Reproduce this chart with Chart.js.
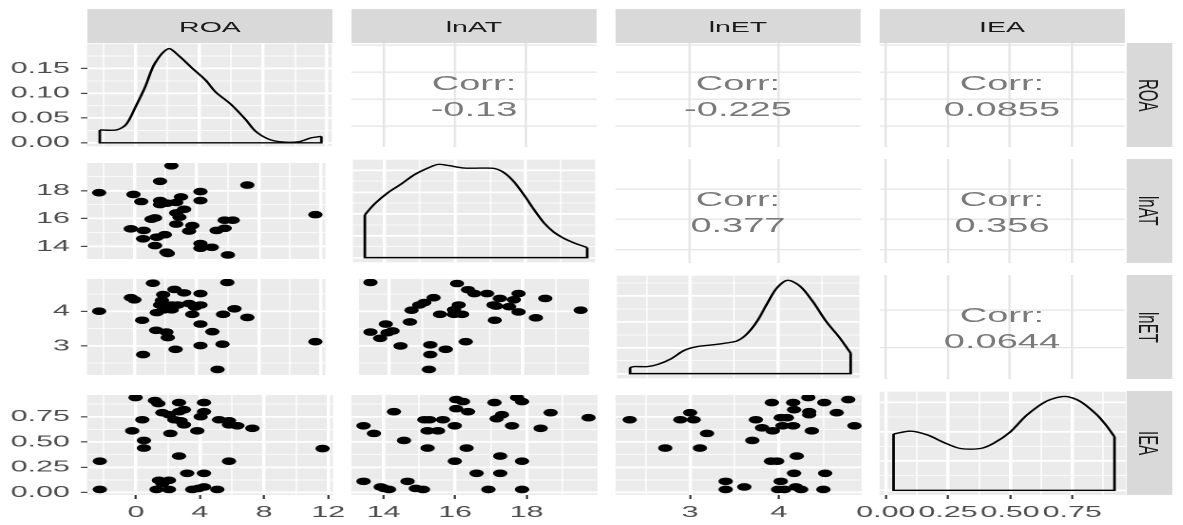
<!DOCTYPE html>
<html>
<head>
<meta charset="utf-8">
<script src="https://cdn.jsdelivr.net/npm/chart.js@4.4.1/dist/chart.umd.min.js"></script>
<style>
	html, body { margin: 0; padding: 0; background: #ffffff; overflow: hidden; }
	/* the reference is stretched sideways, so the whole matrix is drawn narrow and scaled */
	#stage {
		position: absolute; left: 0; top: 0; width: 623px; height: 525px;
		transform: scaleX( 1.9 ); transform-origin: 0 0;
		font-family: 'Liberation Sans', Arial, sans-serif;
	}
	.cell { position: absolute; }
	.strip {
		position: absolute; background: #d9d9d9; color: #1a1a1a; font-size: 15px;
		display: flex; align-items: center; justify-content: center;
	}
	.strip.right { writing-mode: vertical-rl; }
	.corr {
		position: absolute; color: #7a7a7a; font-size: 20px; line-height: 26px;
		display: flex; flex-direction: column; align-items: center; justify-content: center;
		padding-top: 2px; box-sizing: border-box;
	}
</style>
</head>
<body>
<div id="stage"></div>
<script>
( function () {
	'use strict';

	// ── Data ──────────────────────────────────────────────────

	const variables = [ 'ROA', 'lnAT', 'lnET', 'IEA' ];

	const roaTicks = [ 0, 4, 8, 12 ];
	const roaMinor = [ -2, 2, 6, 10 ];
	const lnatTicks = [ 14, 16, 18 ];
	const lnatMinor = [ 15, 17, 19 ];
	const lnetTicks = [ 3, 4 ];
	const lnetMinor = [ 2.5, 3.5, 4.5 ];
	const ieaTicks = [ 0, 0.25, 0.5, 0.75 ];
	const ieaMinor = [ 0.125, 0.375, 0.625, 0.875 ];

	// density y breaks (only ROA's are labelled)
	const roaDensTicks = [ 0, 0.05, 0.1, 0.15 ];
	const roaDensMinor = [ 0.025, 0.075, 0.125, 0.175 ];
	const lnatDensTicks = [ 0, 0.05, 0.1, 0.15, 0.2 ];
	const lnatDensMinor = [ 0.025, 0.075, 0.125, 0.175 ];
	const lnetDensTicks = [ 0, 0.25, 0.5, 0.75 ];
	const lnetDensMinor = [ 0.125, 0.375, 0.625, 0.875 ];
	const ieaDensTicks = [ 0, 0.5, 1, 1.5 ];
	const ieaDensMinor = [ 0.25, 0.75, 1.25 ];

	const roaDensX = [ -2.25, -1.2, -0.6, 0, 0.6, 1.2, 2.06, 2.7, 3.5, 4.4, 5.0, 6.0, 6.9, 7.5, 8.3, 9.1, 10.2, 11.0, 11.65 ];
	const roaDensY = [ 0.026, 0.026, 0.037, 0.073, 0.113, 0.16, 0.19, 0.176, 0.152, 0.126, 0.103, 0.077, 0.047, 0.024, 0.008, 0.002, 0.002, 0.01, 0.013 ];

	const lnatDensX = [ 13.44, 13.73, 14.1, 14.48, 14.85, 15.23, 15.52, 15.8, 16.27, 16.74, 17.12, 17.4, 17.68, 17.96, 18.25, 18.53, 18.81, 19.09, 19.37, 19.75 ];
	const lnatDensY = [ 0.098, 0.124, 0.149, 0.169, 0.19, 0.205, 0.2135, 0.211, 0.205, 0.205, 0.204, 0.194, 0.173, 0.143, 0.109, 0.079, 0.058, 0.044, 0.034, 0.023 ];

	const lnetDensX = [ 2.31, 2.36, 2.51, 2.63, 2.78, 2.93, 3.08, 3.27, 3.42, 3.53, 3.64, 3.76, 3.87, 3.98, 4.11, 4.25, 4.4, 4.55, 4.7, 4.83 ];
	const lnetDensY = [ 0.059, 0.068, 0.068, 0.09, 0.144, 0.225, 0.261, 0.279, 0.297, 0.315, 0.378, 0.504, 0.666, 0.819, 0.9, 0.846, 0.693, 0.504, 0.351, 0.198 ];

	const ieaDensX = [ 0.031, 0.1, 0.167, 0.233, 0.3, 0.38, 0.433, 0.5, 0.567, 0.647, 0.72, 0.78, 0.847, 0.887, 0.92 ];
	const ieaDensY = [ 0.96, 1.008, 0.944, 0.816, 0.712, 0.712, 0.8, 0.992, 1.28, 1.52, 1.6, 1.52, 1.296, 1.104, 0.912 ];

	// scatter panels: [column variable, row variable]
	const roaVsLnat = [
		[ 2.38, 19.78 ], [ 1.65, 18.67 ], [ 7.27, 18.4 ], [ -2.27, 17.85 ], [ -0.06, 17.73 ], [ 0.44, 17.22 ],
		[ 1.65, 17.29 ], [ 4.25, 17.93 ], [ 4.25, 17.29 ], [ 1.65, 17.0 ], [ 2.69, 17.15 ], [ 3.0, 17.55 ],
		[ 2.1, 17.1 ], [ 3.2, 16.66 ], [ 2.69, 16.4 ], [ 2.9, 16.1 ], [ 1.33, 16.04 ], [ 1.1, 15.95 ],
		[ 6.33, 15.88 ], [ 5.81, 15.88 ], [ 11.65, 16.28 ], [ 2.69, 15.6 ], [ 3.73, 15.5 ], [ -0.23, 15.26 ],
		[ 0.6, 15.15 ], [ 3.52, 15.1 ], [ 5.29, 15.15 ], [ 5.81, 15.3 ], [ 0.56, 14.55 ], [ 1.44, 14.66 ],
		[ 1.96, 14.84 ], [ 1.33, 14.06 ], [ 4.25, 14.21 ], [ 4.25, 13.87 ], [ 4.98, 13.94 ], [ 2.06, 13.59 ],
		[ 2.15, 13.5 ], [ 6.02, 13.39 ],
	];
	const roaVsLnet = [
		[ 1.19, 4.81 ], [ 5.98, 4.83 ], [ -0.23, 4.39 ], [ 0.0, 4.33 ], [ 2.58, 4.63 ], [ 3.2, 4.53 ],
		[ 4.25, 4.51 ], [ 1.85, 4.48 ], [ 1.77, 4.31 ], [ 1.65, 4.18 ], [ 2.4, 4.18 ], [ 2.79, 4.18 ],
		[ 3.52, 4.22 ], [ 4.25, 4.18 ], [ 3.9, 4.12 ], [ 1.44, 3.96 ], [ 2.4, 4.04 ], [ 1.9, 4.04 ],
		[ 3.73, 3.91 ], [ -2.27, 4.0 ], [ 5.71, 3.91 ], [ 6.44, 4.07 ], [ 7.27, 3.82 ], [ 0.5, 3.74 ],
		[ 4.25, 3.63 ], [ 1.4, 3.45 ], [ 2.06, 3.4 ], [ 2.15, 3.24 ], [ 5.02, 3.41 ], [ 11.65, 3.12 ],
		[ 2.65, 2.9 ], [ 4.25, 3.01 ], [ 5.67, 3.05 ], [ 0.56, 2.75 ], [ 5.35, 2.32 ],
	];
	const lnatVsLnet = [
		[ 13.44, 4.83 ], [ 16.03, 4.8 ], [ 16.36, 4.62 ], [ 16.55, 4.51 ], [ 16.93, 4.51 ], [ 17.87, 4.51 ],
		[ 17.31, 4.37 ], [ 17.73, 4.33 ], [ 18.67, 4.37 ], [ 15.33, 4.39 ], [ 15.05, 4.25 ], [ 14.9, 4.18 ],
		[ 14.67, 4.03 ], [ 16.08, 4.18 ], [ 15.94, 4.04 ], [ 16.18, 3.91 ], [ 15.94, 3.91 ], [ 15.52, 3.91 ],
		[ 17.12, 4.18 ], [ 17.2, 4.15 ], [ 17.59, 4.13 ], [ 17.87, 3.98 ], [ 17.16, 3.74 ], [ 18.39, 3.81 ],
		[ 19.73, 4.03 ], [ 14.62, 3.69 ], [ 13.9, 3.63 ], [ 13.44, 3.4 ], [ 14.1, 3.43 ], [ 13.95, 3.38 ],
		[ 13.73, 3.22 ], [ 14.34, 3.0 ], [ 15.23, 3.03 ], [ 15.23, 2.75 ], [ 15.69, 2.9 ], [ 16.29, 3.12 ],
		[ 15.19, 2.32 ],
	];
	const roaVsIea = [
		[ -0.02, 0.94 ], [ 1.19, 0.91 ], [ 2.69, 0.89 ], [ 4.25, 0.89 ], [ 1.4, 0.88 ], [ 1.65, 0.79 ],
		[ 2.06, 0.77 ], [ 3.0, 0.82 ], [ 2.69, 0.8 ], [ 4.25, 0.8 ], [ 4.04, 0.75 ], [ 0.4, 0.72 ],
		[ 2.4, 0.72 ], [ 5.19, 0.72 ], [ 5.81, 0.71 ], [ 2.79, 0.71 ], [ 3.0, 0.67 ], [ 5.81, 0.67 ],
		[ 6.33, 0.66 ], [ 7.27, 0.635 ], [ -0.23, 0.61 ], [ 3.83, 0.61 ], [ 2.15, 0.585 ], [ 0.5, 0.515 ],
		[ 0.5, 0.44 ], [ 11.65, 0.435 ], [ 2.69, 0.36 ], [ -2.25, 0.31 ], [ 5.81, 0.31 ], [ 3.2, 0.19 ],
		[ 4.25, 0.19 ], [ 1.44, 0.12 ], [ 2.06, 0.12 ], [ 1.65, 0.09 ], [ 1.29, 0.03 ], [ 2.06, 0.03 ],
		[ -2.25, 0.03 ], [ 3.52, 0.03 ], [ 4.25, 0.055 ], [ 5.08, 0.03 ], [ 3.9, 0.04 ],
	];
	const lnatVsIea = [
		[ 16.03, 0.92 ], [ 16.22, 0.9 ], [ 17.73, 0.94 ], [ 17.87, 0.9 ], [ 17.1, 0.89 ], [ 16.03, 0.83 ],
		[ 16.36, 0.8 ], [ 14.29, 0.8 ], [ 17.31, 0.77 ], [ 17.16, 0.73 ], [ 18.67, 0.79 ], [ 19.73, 0.74 ],
		[ 15.14, 0.72 ], [ 15.28, 0.72 ], [ 15.66, 0.72 ], [ 13.44, 0.66 ], [ 15.99, 0.66 ], [ 17.59, 0.66 ],
		[ 18.39, 0.635 ], [ 13.73, 0.585 ], [ 15.23, 0.61 ], [ 15.52, 0.61 ], [ 14.57, 0.515 ], [ 15.23, 0.44 ],
		[ 16.32, 0.44 ], [ 17.26, 0.36 ], [ 15.99, 0.31 ], [ 17.87, 0.31 ], [ 16.6, 0.19 ], [ 17.26, 0.19 ],
		[ 13.44, 0.11 ], [ 14.67, 0.11 ], [ 13.92, 0.055 ], [ 14.15, 0.03 ], [ 14.9, 0.04 ], [ 15.1, 0.03 ],
		[ 16.93, 0.03 ], [ 17.87, 0.03 ], [ 14.02, 0.04 ],
	];
	const lnetVsIea = [
		[ 2.32, 0.72 ], [ 3.0, 0.79 ], [ 2.89, 0.72 ], [ 3.04, 0.72 ], [ 3.19, 0.585 ], [ 2.72, 0.44 ],
		[ 3.11, 0.44 ], [ 3.4, 0.11 ], [ 3.4, 0.03 ], [ 3.61, 0.055 ], [ 3.7, 0.515 ], [ 3.74, 0.72 ],
		[ 3.81, 0.64 ], [ 3.93, 0.61 ], [ 3.92, 0.89 ], [ 4.02, 0.74 ], [ 4.09, 0.74 ], [ 4.04, 0.66 ],
		[ 4.16, 0.66 ], [ 4.16, 0.89 ], [ 4.17, 0.82 ], [ 4.33, 0.94 ], [ 4.34, 0.8 ], [ 4.34, 0.77 ],
		[ 4.51, 0.89 ], [ 4.65, 0.79 ], [ 4.78, 0.92 ], [ 4.85, 0.66 ], [ 4.37, 0.61 ], [ 3.91, 0.31 ],
		[ 3.98, 0.31 ], [ 4.2, 0.36 ], [ 4.17, 0.19 ], [ 4.52, 0.19 ], [ 4.02, 0.11 ], [ 3.99, 0.03 ],
		[ 4.06, 0.03 ], [ 4.19, 0.055 ], [ 4.25, 0.03 ], [ 4.5, 0.03 ],
	];

	const corrLabels = {
		'0-1': '-0.13',
		'0-2': '-0.225',
		'0-3': '0.0855',
		'1-2': '0.377',
		'1-3': '0.356',
		'2-3': '0.0644',
	};

	// ── Scales ────────────────────────────────────────────────

	const plain = ( v ) => String( v );
	const twoDp = ( v ) => v.toFixed( 2 );

	const varScales = [
		{ range: [ -3.05, 12.3 ], major: roaTicks, minor: roaMinor, fmt: plain },
		{ range: [ 13.1, 19.98 ], major: lnatTicks, minor: lnatMinor, fmt: plain },
		{ range: [ 2.16, 4.93 ], major: lnetTicks, minor: lnetMinor, fmt: plain },
		{ range: [ -0.025, 0.965 ], major: ieaTicks, minor: ieaMinor, fmt: twoDp },
	];

	const densScales = [
		{ range: [ -0.007, 0.2 ], major: roaDensTicks, minor: roaDensMinor, fmt: twoDp },
		{ range: [ -0.0107, 0.2242 ], major: lnatDensTicks, minor: lnatDensMinor, fmt: twoDp },
		{ range: [ -0.045, 0.945 ], major: lnetDensTicks, minor: lnetDensMinor, fmt: twoDp },
		{ range: [ -0.08, 1.68 ], major: ieaDensTicks, minor: ieaDensMinor, fmt: twoDp },
	];

	const densities = [
		[ roaDensX, roaDensY ],
		[ lnatDensX, lnatDensY ],
		[ lnetDensX, lnetDensY ],
		[ ieaDensX, ieaDensY ],
	];

	const scatters = {
		'1-0': roaVsLnat,
		'2-0': roaVsLnet,
		'2-1': lnatVsLnet,
		'3-0': roaVsIea,
		'3-1': lnatVsIea,
		'3-2': lnetVsIea,
	};

	// ── Layout (final, stretched pixels) ─────────────────────

	const STRETCH = 1.9;
	const FONT = "'Liberation Sans', Arial, sans-serif";
	const colLeft = [ 87, 351, 615, 879 ];
	const rowTop = [ 43, 159, 275, 391 ];
	const panelW = 246;
	const panelH = 104;
	const axisLeft = 87;
	const axisBottom = 30;
	const labelRoom = 36; // lets the outer x labels spill past the panel

	const palette = {
		panel: '#ebebeb',
		grid: '#ffffff',
		upperGrid: '#e5e5e5',
		tick: '#333333',
		label: '#4d4d4d',
		ink: '#000000',
	};

	const stage = document.getElementById( 'stage' );

	const panelBackground = {
		id: 'panelBackground',
		beforeDraw( chart, args, opts ) {
			const { ctx, chartArea: a } = chart;
			ctx.save();
			ctx.fillStyle = opts.color;
			ctx.fillRect( a.left, a.top, a.width, a.height );
			ctx.restore();
		},
	};

	// pad is in final pixels; the y axis width gets squeezed by the stretch
	const makeAxis = ( axis, spec, pad, labelled, upper ) => {
		const values = ( upper ? spec.major : spec.major.concat( spec.minor ) )
			.filter( ( v ) => v >= spec.range[ 0 ] && v <= spec.range[ 1 ] )
			.sort( ( a, b ) => a - b );
		const isMajor = ( v ) => spec.major.includes( v );

		return {
			type: 'linear',
			position: axis === 'x' ? 'bottom' : 'left',
			min: spec.range[ 0 ],
			max: spec.range[ 1 ],
			border: { display: false },
			afterBuildTicks: ( scale ) => {
				scale.ticks = values.map( ( value ) => ( { value } ) );
			},
			afterFit: ( scale ) => {
				if ( axis === 'x' ) {
					scale.height = pad;
				} else {
					scale.width = pad / STRETCH;
				}
				scale.paddingLeft = 0;
				scale.paddingRight = 0;
				scale.paddingTop = 0;
				scale.paddingBottom = 0;
			},
			grid: {
				drawTicks: labelled,
				tickLength: axis === 'x' ? 4 : 3.2,
				color: upper ? palette.upperGrid : palette.grid,
				lineWidth: ( ctx ) => {
					if ( upper ) {
						return 1.2;
					}
					return ctx.tick && isMajor( ctx.tick.value ) ? 1.7 : 0.7;
				},
				tickColor: ( ctx ) =>
					ctx.tick && isMajor( ctx.tick.value ) ? palette.tick : 'rgba(0,0,0,0)',
				tickWidth: 1.1,
			},
			ticks: {
				display: labelled,
				autoSkip: false,
				maxRotation: 0,
				padding: axis === 'x' ? 4 : 5.8,
				color: palette.label,
				font: { family: FONT, size: 16 },
				callback: ( value ) => ( isMajor( value ) ? spec.fmt( value ) : '' ),
			},
		};
	};

	const addDiv = ( cls, left, top, width, height, html ) => {
		const el = document.createElement( 'div' );
		el.className = cls;
		el.style.left = left / STRETCH + 'px';
		el.style.top = top + 'px';
		el.style.width = width / STRETCH + 'px';
		el.style.height = height + 'px';
		el.innerHTML = html;
		stage.appendChild( el );
		return el;
	};

	const renderPanel = ( r, c ) => {
		const padL = c === 0 ? axisLeft : 0;
		const padB = r === 3 ? axisBottom : 0;
		const roomL = r === 3 && c > 0 ? labelRoom : 0;
		const roomR = r === 3 ? labelRoom : 0;
		const upper = r < c;
		const diag = r === c;

		const box = addDiv(
			'cell',
			colLeft[ c ] - padL - roomL,
			rowTop[ r ],
			panelW + padL + roomL + roomR,
			panelH + padB,
			''
		);
		const canvas = document.createElement( 'canvas' );
		box.appendChild( canvas );

		const datasets = [];
		if ( diag ) {
			const [ xs, ys ] = densities[ r ];
			const last = xs.length - 1;
			datasets.push( {
				data: xs.map( ( x, i ) => ( { x, y: ys[ i ] } ) ),
				showLine: true,
				tension: 0.3,
				borderColor: palette.ink,
				borderWidth: 1.4,
				pointRadius: 0,
			} );
			datasets.push( {
				data: [
					{ x: xs[ last ], y: ys[ last ] },
					{ x: xs[ last ], y: 0 },
					{ x: xs[ 0 ], y: 0 },
					{ x: xs[ 0 ], y: ys[ 0 ] },
				],
				showLine: true,
				tension: 0,
				borderColor: palette.ink,
				borderWidth: 1.4,
				pointRadius: 0,
			} );
		} else if ( ! upper ) {
			datasets.push( {
				data: scatters[ `${ r }-${ c }` ].map( ( [ x, y ] ) => ( { x, y } ) ),
				pointRadius: 3.8,
				pointBackgroundColor: palette.ink,
				pointBorderWidth: 0,
			} );
		}

		new Chart( canvas, {
			type: 'scatter',
			data: { datasets },
			plugins: [ panelBackground ],
			options: {
				responsive: true,
				maintainAspectRatio: false,
				animation: false,
				devicePixelRatio: 2,
				events: [],
				layout: {
					padding: { left: roomL / STRETCH, right: roomR / STRETCH, top: 0, bottom: 0 },
				},
				plugins: {
					legend: { display: false },
					tooltip: { enabled: false },
					panelBackground: { color: upper ? '#ffffff' : palette.panel },
				},
				scales: {
					x: makeAxis( 'x', varScales[ c ], padB, r === 3, upper ),
					y: makeAxis( 'y', diag ? densScales[ r ] : varScales[ r ], padL, c === 0, upper ),
				},
			},
		} );

		if ( upper ) {
			addDiv(
				'corr',
				colLeft[ c ],
				rowTop[ r ],
				panelW,
				panelH,
				`<span>Corr:</span><span>${ corrLabels[ `${ r }-${ c }` ] }</span>`
			);
		}
	};

	// ── Strips ────────────────────────────────────────────────

	variables.forEach( ( name, i ) => {
		addDiv( 'strip', colLeft[ i ], 9, panelW, 34, name );
		addDiv( 'strip right', 1126, rowTop[ i ], 46, panelH, name );
	} );

	for ( let r = 0; r < 4; r++ ) {
		for ( let c = 0; c < 4; c++ ) {
			renderPanel( r, c );
		}
	}
} )();
</script>
</body>
</html>
